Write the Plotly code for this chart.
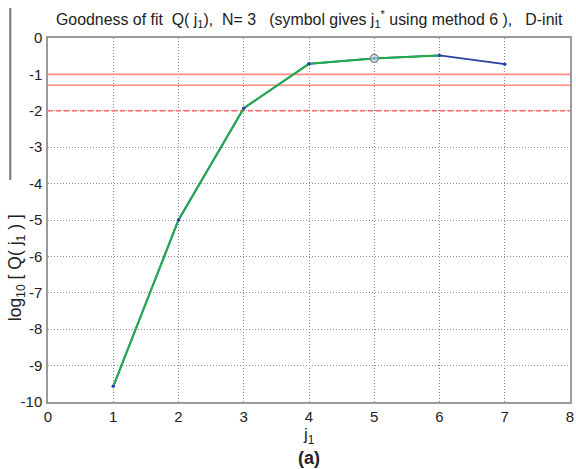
import plotly.graph_objects as go

# ---- data ----
j1 = [1, 2, 3, 4, 5, 6, 7]
log_q = [-9.57, -5.0, -1.93, -0.71, -0.56, -0.48, -0.72]
green_j = [1, 2, 3, 4, 5, 6]
green_q = [-9.57, -5.0, -1.93, -0.71, -0.56, -0.48]
j_star = [5]
q_star = [-0.56]
solid_levels = [-1.0, -1.3]
dashed_levels = [-2.0]
x_ticks = [0, 1, 2, 3, 4, 5, 6, 7, 8]
y_ticks = [0, -1, -2, -3, -4, -5, -6, -7, -8, -9, -10]

FONT = "Liberation Sans, Arial, Helvetica, sans-serif"
W, H = 576, 469
L, R, T, B = 48, 2, 38, 67
PW, PH = W - L - R, H - T - B

fig = go.Figure()

# threshold lines
for lv in solid_levels:
    fig.add_trace(go.Scatter(x=[0, 8], y=[lv, lv], mode="lines",
                             line=dict(color="#ff8a80", width=1.6),
                             hoverinfo="skip", showlegend=False))
for lv in dashed_levels:
    fig.add_trace(go.Scatter(x=[0, 8], y=[lv, lv], mode="lines",
                             line=dict(color="#ff6a6a", width=1.6, dash="5px,3px"),
                             hoverinfo="skip", showlegend=False))

# blue full curve, green part over it
fig.add_trace(go.Scatter(x=j1, y=log_q, mode="lines",
                         line=dict(color="#2a3f9f", width=1.8),
                         showlegend=False))
fig.add_trace(go.Scatter(x=green_j, y=green_q, mode="lines",
                         line=dict(color="#1fae4a", width=2),
                         showlegend=False))
fig.add_trace(go.Scatter(x=j1, y=log_q, mode="markers",
                         marker=dict(color="#2a3fbf", size=3.5),
                         showlegend=False))
# selected j1*
fig.add_trace(go.Scatter(x=j_star, y=q_star, mode="markers",
                         marker=dict(symbol="circle", size=8, color="rgba(200,225,245,0.6)",
                                     line=dict(color="#808080", width=1.2)),
                         showlegend=False))

grid = dict(showgrid=True, gridcolor="#8a8a8a", griddash="1px,2px", gridwidth=1,
            zeroline=False, showline=True, linecolor="#9a9a9a", linewidth=1.5,
            mirror=True, ticks="", ticklabeloverflow="allow",
            tickfont=dict(family=FONT, size=15, color="#222"))

fig.update_xaxes(range=[0, 8], tickvals=x_ticks, ticktext=[str(v) for v in x_ticks],
                 ticklabelstandoff=0, **grid)
fig.update_yaxes(range=[-10, 0], tickvals=y_ticks, ticktext=[str(v) for v in y_ticks],
                 ticklabelstandoff=1, **grid)

fig.update_layout(
    width=W, height=H,
    margin=dict(l=L, r=R, t=T, b=B),
    paper_bgcolor="white", plot_bgcolor="white",
    font=dict(family=FONT, color="#222"),
    title=dict(
        text="Goodness of fit&nbsp; Q( j<sub>1</sub>),&nbsp; N= 3&nbsp;&nbsp; (symbol gives j<sub>1</sub><sup>*</sup> using method 6 ),&nbsp;&nbsp; D-init",
        x=56 / W, xanchor="left", xref="container",
        y=1 - 19 / H, yanchor="middle", yref="container",
        font=dict(family=FONT, size=15.9, color="#222"),
    ),
    annotations=[
        dict(text="j<sub>1</sub>", x=0.5, y=-(436 - 402) / PH,
             xref="paper", yref="paper", showarrow=False, yanchor="middle",
             font=dict(family=FONT, size=17, color="#222")),
        dict(text="<b>(a)</b>", x=0.5, y=-(458 - 402) / PH,
             xref="paper", yref="paper", showarrow=False, yanchor="middle",
             font=dict(family=FONT, size=18, color="#222")),
        dict(text="log<sub>10</sub> [ Q( j<sub>1</sub> ) ]", textangle=-90,
             x=(16 - L) / PW, y=1 - (268 - T) / PH, xref="paper", yref="paper",
             showarrow=False, xanchor="center", yanchor="middle",
             font=dict(family=FONT, size=17.5, color="#222")),
    ],
    shapes=[
        dict(type="line", xref="paper", yref="paper",
             x0=(10 - L) / PW, x1=(10 - L) / PW,
             y0=1 + (T - 8) / PH, y1=1 - (180 - T) / PH,
             line=dict(color="#777", width=2)),
    ],
)

fig.write_html("out.html")
